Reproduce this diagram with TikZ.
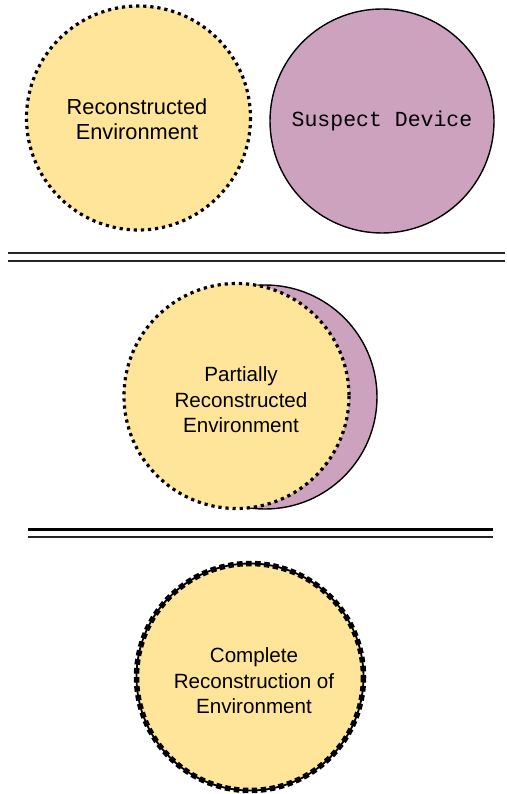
\documentclass[tikz,border=0pt]{standalone}
\usepackage{fontspec}
\setmainfont{Liberation Sans}
\newfontfamily\monofont{Liberation Mono}
\definecolor{envfill}{HTML}{FFE599}
\definecolor{devfill}{HTML}{CDA2BE}
\begin{document}
\begin{tikzpicture}[x=1pt,y=-1pt,
  envtext/.style={align=center,font=\fontsize{20.6}{25.5}\selectfont,text=black},
  dotring/.style={draw=black,line width=3.2pt,dash pattern=on 3.2pt off 3.9pt},
  dashring/.style={draw=black,line width=5.5pt,dash pattern=on 5.5pt off 3.5pt},
  devring/.style={draw=black,line width=1.4pt,fill=devfill},
  rule/.style={draw=black!85,line width=2pt}]
\useasboundingbox (0,0) rectangle (506,794);

% top row: environment and device apart
\fill[envfill] (138.5,118) circle (112);
\draw[dotring] (138.5,118) circle (112);
\node[envtext,font=\fontsize{21.8}{24.5}\selectfont] (env1) at (137,119) {Reconstructed\\Environment};
\draw[devring] (382,121) circle (112);
\node[font=\monofont\fontsize{21.5}{26}\selectfont] (dev) at (382,121) {Suspect Device};

% separator
\coordinate (s1a) at (8,253.3);  \coordinate (s1b) at (505,253.3);
\coordinate (s1c) at (8,261);    \coordinate (s1d) at (505,261);
\draw[rule] (s1a) -- (s1b);
\draw[rule] (s1c) -- (s1d);

% middle: environment partly covering the device
\draw[devring] (265,397) circle (112);
\fill[envfill] (236.5,396) circle (112.5);
\draw[dotring] (236.5,396) circle (112.5);
\node[envtext] (env2) at (241,400) {Partially\\Reconstructed\\Environment};

% separator
\coordinate (s2a) at (28,529.7); \coordinate (s2b) at (493,529.7);
\coordinate (s2c) at (28,537);   \coordinate (s2d) at (493,537);
\draw[draw=black,line width=3pt] (s2a) -- (s2b);
\draw[rule] (s2c) -- (s2d);

% bottom: full reconstruction
\fill[envfill] (250,677) circle (113.5);
\draw[black,line width=1.8pt] (250,677) circle (113.5);
\draw[dashring] (250,677) circle (113.5);
\node[envtext] (env3) at (254,681) {Complete\\Reconstruction of\\Environment};
\end{tikzpicture}
\end{document}
